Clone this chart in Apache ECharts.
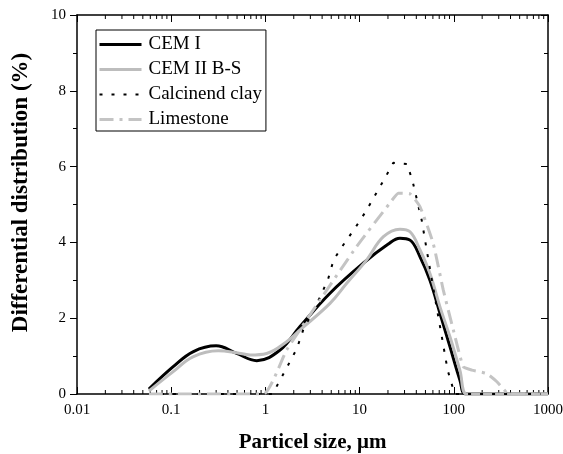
<!DOCTYPE html>
<html>
<head>
<meta charset="utf-8">
<script src="https://cdn.jsdelivr.net/npm/echarts@6/dist/echarts.min.js"></script>
<style>html,body{margin:0;padding:0;background:#fff;}#c{width:563px;height:454px;}</style>
</head>
<body>
<div id="c"></div>
<script>
// ---- data (particle size in µm, differential distribution in %) ----
const seriesNames = ['CEM I', 'CEM II B-S', 'Calcinend clay', 'Limestone'];
const cem1 = [[0.058,0.13],[0.105,0.72],[0.172,1.12],[0.30,1.27],[0.495,1.07],[0.81,0.88],[1.43,1.16],[2.33,1.78],[4.85,2.66],[10.9,3.45],[20,3.95],[26.8,4.11],[34.3,4.06],[43.8,3.62],[55.8,3.0],[71.3,2.13],[91,1.25],[116,0.37],[133,0],[200,0],[1000,0]];
const cem2 = [[0.058,0.08],[0.105,0.59],[0.17,0.98],[0.316,1.14],[0.495,1.09],[0.69,1.03],[1.03,1.07],[1.68,1.38],[2.33,1.69],[4.85,2.39],[7.3,2.92],[11.9,3.54],[17.9,4.15],[26.8,4.35],[34.3,4.28],[43.8,3.8],[55.8,3.18],[71.3,2.3],[91,1.51],[116,0.63],[137,0],[200,0],[1000,0]];
const clay = [[0.058,0],[1.19,0],[1.37,0.28],[1.75,0.77],[2.15,1.19],[2.52,1.69],[3.12,2.13],[3.83,2.57],[4.65,3.05],[5.3,3.54],[6.7,3.93],[8.9,4.37],[11.6,4.81],[14.8,5.27],[18.5,5.69],[22.8,6.1],[32,6.07],[36.8,5.58],[45.6,4.59],[53.4,3.58],[62.6,2.59],[73.3,1.62],[86,0.63],[98,0.15],[102,0],[1000,0]];
const limestone = [[0.058,0],[0.95,0],[1.68,1.16],[3.8,2.48],[9.3,3.89],[21,5.04],[25.8,5.3],[34.3,5.28],[43.8,4.94],[60.5,3.97],[77.4,2.74],[98.9,1.69],[126,0.72],[155,0.63],[223,0.54],[285,0.33],[365,0.03],[380,0],[1000,0]];
const xTickLabels = ['0.01', '0.1', '1', '10', '100', '1000'];
const yTickLabels = ['0', '2', '4', '6', '8', '10'];
const xMinorTicks = [];
for (let k = -2; k <= 2; k++) for (let m = 2; m <= 9; m++) xMinorTicks.push(+(m * Math.pow(10, k)).toPrecision(3));

const FONT = "'Liberation Serif', 'Times New Roman', serif";
const chart = echarts.init(document.getElementById('c'), null, {renderer: 'canvas'});

const baseX = {
  type: 'log', logBase: 10, min: 0.01, max: 1000,
  axisLine: {show: true, onZero: false, lineStyle: {color: '#000', width: 1.5}},
  axisTick: {show: true, inside: true, length: 7, lineStyle: {color: '#000', width: 1}},
  splitLine: {show: false}, minorTick: {show: false}, minorSplitLine: {show: false}
};
const baseY = {
  type: 'value', min: 0, max: 10, interval: 2,
  axisLine: {show: true, onZero: false, lineStyle: {color: '#000', width: 1.5}},
  splitLine: {show: false}
};

chart.setOption({
  animation: false,
  backgroundColor: '#fff',
  textStyle: {fontFamily: FONT, color: '#000'},
  grid: {left: 77, right: 15, top: 15, bottom: 60, containLabel: false, outerBoundsMode: 'none'},
  legend: {
    orient: 'vertical', left: 96, top: 30,
    data: seriesNames,
    itemWidth: 42, itemHeight: 14, itemGap: 6,
    padding: [5, 4, 2, 2],
    borderColor: '#000', borderWidth: 1, backgroundColor: '#fff',
    itemStyle: {opacity: 0, borderWidth: 0},
    lineStyle: {width: 'inherit'},
    textStyle: {fontFamily: FONT, fontSize: 19, color: '#000', padding: [0, 0, 0, 2]}
  },
  xAxis: [
    Object.assign({}, baseX, {
      position: 'bottom',
      name: 'Particel size, \u03bcm', nameLocation: 'middle', nameGap: 38,
      nameTextStyle: {fontFamily: FONT, fontSize: 21, fontWeight: 'bold', color: '#000'},
      axisLabel: {show: true, margin: 9, fontFamily: FONT, fontSize: 15, color: '#000',
        formatter: (v, i) => xTickLabels[i] !== undefined ? xTickLabels[i] : ''}
    }),
    Object.assign({}, baseX, {position: 'top', axisLabel: {show: false}})
  ],
  yAxis: [
    Object.assign({}, baseY, {
      position: 'left',
      name: 'Differential distribution (%)', nameLocation: 'middle', nameGap: 44,
      nameTextStyle: {fontFamily: FONT, fontSize: 23, fontWeight: 'bold', color: '#000', padding: [0, 0, 0, 24]},
      axisTick: {show: true, inside: false, length: 7, lineStyle: {color: '#000', width: 1}},
      minorTick: {show: true, splitNumber: 2, length: 4, lineStyle: {color: '#000', width: 1}},
      axisLabel: {show: true, margin: 11, fontFamily: FONT, fontSize: 15, color: '#000',
        formatter: (v, i) => yTickLabels[i] !== undefined ? yTickLabels[i] : ''}
    }),
    Object.assign({}, baseY, {
      position: 'right',
      axisTick: {show: true, inside: true, length: 7, lineStyle: {color: '#000', width: 1}},
      minorTick: {show: true, splitNumber: 2, length: 4, lineStyle: {color: '#000', width: 1}},
      axisLabel: {show: false}
    })
  ],
  series: [
    {
      name: 'minorTicks', type: 'custom', xAxisIndex: 0, yAxisIndex: 0, silent: true,
      data: xMinorTicks.map(v => [v, 0]),
      renderItem: function (params, api) {
        const b = api.coord([api.value(0), 0]);
        const t = api.coord([api.value(0), 10]);
        return {type: 'group', children: [
          {type: 'line', shape: {x1: b[0], y1: b[1], x2: b[0], y2: b[1] - 4}, style: {stroke: '#000', lineWidth: 1}},
          {type: 'line', shape: {x1: t[0], y1: t[1], x2: t[0], y2: t[1] + 4}, style: {stroke: '#000', lineWidth: 1}}
        ]};
      },
      z: 1
    },
    {name: 'CEM I', type: 'line', data: cem1, showSymbol: false, symbol: 'none', smooth: 0.4,
      lineStyle: {color: '#000', width: 3}, itemStyle: {color: '#000'}, z: 3},
    {name: 'CEM II B-S', type: 'line', data: cem2, showSymbol: false, symbol: 'none', smooth: 0.4,
      lineStyle: {color: '#bdbdbd', width: 3}, itemStyle: {color: '#bdbdbd'}, z: 4},
    {name: 'Calcinend clay', type: 'line', data: clay, showSymbol: false, symbol: 'none', smooth: false,
      lineStyle: {color: '#000', width: 2, type: [3, 9]}, itemStyle: {color: '#000'}, z: 5},
    {name: 'Limestone', type: 'line', data: limestone, showSymbol: false, symbol: 'none', smooth: 0.15,
      lineStyle: {color: '#c4c4c4', width: 3, type: [14, 6, 3, 6]}, itemStyle: {color: '#c4c4c4'}, z: 6}
  ]
});
</script>
</body>
</html>
